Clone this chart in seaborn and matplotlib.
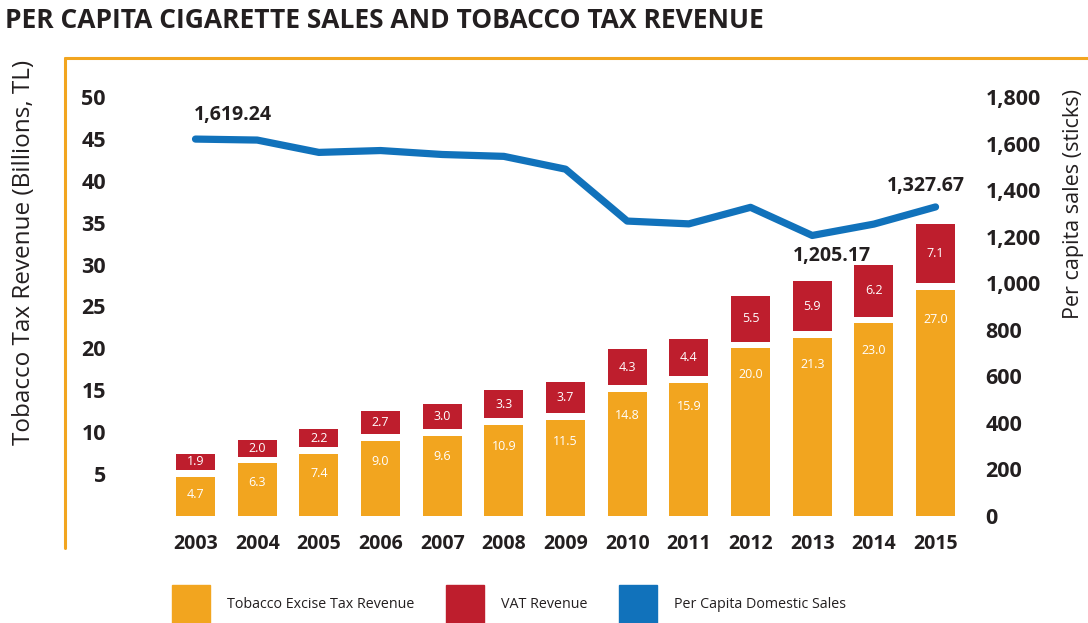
import matplotlib
matplotlib.use("Agg")
import matplotlib.pyplot as plt
from matplotlib.lines import Line2D
from matplotlib.patches import Patch
from matplotlib.ticker import FuncFormatter
import numpy as np
import pandas as pd
import seaborn as sns

# Data
years = ["2003", "2004", "2005", "2006", "2007", "2008", "2009",
         "2010", "2011", "2012", "2013", "2014", "2015"]
excise_tax = [4.7, 6.3, 7.4, 9.0, 9.6, 10.9, 11.5, 14.8, 15.9, 20.0, 21.3, 23.0, 27.0]
vat_revenue = [1.9, 2.0, 2.2, 2.7, 3.0, 3.3, 3.7, 4.3, 4.4, 5.5, 5.9, 6.2, 7.1]
per_capita_sales = [1619.24, 1615, 1562, 1570, 1553, 1545, 1490,
                    1267, 1255, 1326, 1205.17, 1254, 1327.67]
left_ticks = [5, 10, 15, 20, 25, 30, 35, 40, 45, 50]
right_ticks = [0, 200, 400, 600, 800, 1000, 1200, 1400, 1600, 1800]
labelled_points = {"2003": "1,619.24", "2013": "1,205.17", "2015": "1,327.67"}

ORANGE = "#F2A51F"
RED = "#BE1E2D"
BLUE = "#1172BB"
DARK = "#231F20"

sns.set_theme(style="white")
plt.rcParams["font.family"] = ["Open Sans", "DejaVu Sans"]

W, H = 1088, 623
fig = plt.figure(figsize=(W / 100, H / 100), dpi=100)
ax_left, ax_right, ax_top, ax_bot = 110, 980, 97, 516
ax = fig.add_axes([ax_left / W, 1 - ax_bot / H,
                   (ax_right - ax_left) / W, (ax_bot - ax_top) / H])

df = pd.DataFrame({"year": years, "excise": excise_tax, "vat": vat_revenue,
                   "sales": per_capita_sales})
gap = 0.8
bar_w = 0.63

sns.barplot(data=df, x="year", y="excise", color=ORANGE, saturation=1,
            width=bar_w, ax=ax, linewidth=0)
sns.barplot(data=df, x="year", y="vat", color=RED, saturation=1,
            width=bar_w, ax=ax, linewidth=0,
            bottom=(df["excise"] + gap).to_numpy())

# White value labels inside the bars
for i, (e, v) in enumerate(zip(excise_tax, vat_revenue)):
    ax.text(i, e - (1.9 + 0.06 * e), f"{e:.1f}", ha="center", va="center",
            color="white", fontsize=9)
    ax.text(i, e + gap + v / 2, f"{v:.1f}", ha="center", va="center",
            color="white", fontsize=9)

# Left axis
px_per_cat = 61.67
ax.set_xlim(-(195.5 - ax_left) / px_per_cat, (ax_right - 195.5) / px_per_cat)
ax.set_ylim(0, 50)
ax.set_yticks(left_ticks)
ax.set_yticklabels([str(t) for t in left_ticks])
ax.set_xlabel("")
ax.set_ylabel("")
ax.tick_params(axis="y", length=0, pad=3, labelsize=15.5, labelcolor=DARK)
ax.tick_params(axis="x", length=0, pad=13, labelsize=14, labelcolor=DARK)
for lab in ax.get_yticklabels() + ax.get_xticklabels():
    lab.set_fontweight("bold")
for s in ax.spines.values():
    s.set_visible(False)

# Right axis: per capita sales line
ax2 = ax.twinx()
sns.lineplot(x=np.arange(len(years)), y=per_capita_sales, ax=ax2, color=BLUE,
             linewidth=5.2)
for ln in ax2.lines:
    ln.set_solid_capstyle("round")
    ln.set_solid_joinstyle("round")
ax2.set_ylim(0, 1800)
ax2.set_yticks(right_ticks)
ax2.yaxis.set_major_formatter(FuncFormatter(lambda v, p: f"{int(v):,}"))
ax2.tick_params(axis="y", length=0, pad=4, labelsize=15.5, labelcolor=DARK)
for lab in ax2.get_yticklabels():
    lab.set_fontweight("bold")
ax2.set_xlabel("")
ax2.set_ylabel("")
for s in ax2.spines.values():
    s.set_visible(False)
ax2.set_xlim(ax.get_xlim())

offsets = {"2003": ((-1.5, 17), "left"), "2013": ((14, -14.5), "center"),
           "2015": ((-7, 15), "center")}
for yr, txt in labelled_points.items():
    i = years.index(yr)
    (dx, dy), ha = offsets[yr]
    ax2.annotate(txt, (i, per_capita_sales[i]), xytext=(dx, dy),
                 textcoords="offset points", ha=ha, va="center",
                 fontsize=14, fontweight="bold", color=DARK)

# Axis titles
fig.text(24 / W, 1 - 252 / H, "Tobacco Tax Revenue (Billions, TL)", rotation=90,
         ha="center", va="center", fontsize=17.5, color=DARK)
fig.text(1074 / W, 1 - 204 / H, "Per capita sales (sticks)", rotation=90,
         ha="center", va="center", fontsize=15.5, color=DARK)

# Chart title
fig.text(5 / W, 1 - 20 / H, "PER CAPITA CIGARETTE SALES AND TOBACCO TAX REVENUE",
         ha="left", va="center", fontsize=19, fontweight="bold", color=DARK)

# Orange frame
fig.add_artist(Line2D([65 / W, 1.0], [1 - 58 / H, 1 - 58 / H], color=ORANGE,
                      linewidth=2.2, transform=fig.transFigure))
fig.add_artist(Line2D([65 / W, 65 / W], [1 - 58 / H, 1 - 548 / H], color=ORANGE,
                      linewidth=2.2, transform=fig.transFigure))

# Legend
fs = 10.3
handles = [Patch(color=ORANGE, label="Tobacco Excise Tax Revenue"),
           Patch(color=RED, label="VAT Revenue"),
           Patch(color=BLUE, label="Per Capita Domestic Sales")]
fig.legend(handles=handles, loc="lower left", bbox_to_anchor=(172 / W, 0.0),
           ncol=3, frameon=False, fontsize=fs, handlelength=2.65, handleheight=3.7,
           handletextpad=1.2, columnspacing=2.2, borderpad=0, borderaxespad=0,
           labelcolor=DARK)

fig.savefig("out.png", dpi=100)
